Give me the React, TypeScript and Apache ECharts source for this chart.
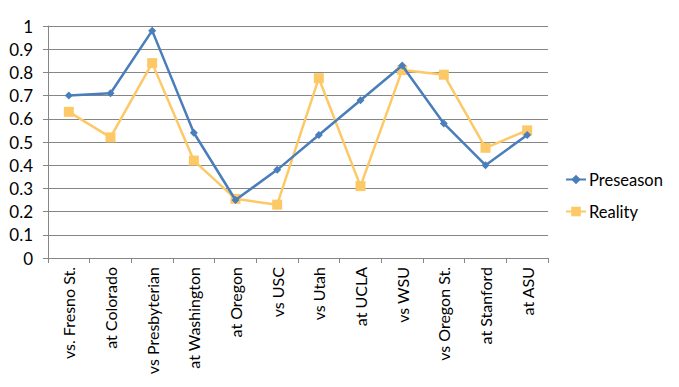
import React, { useEffect, useRef } from "react";
import * as echarts from "echarts";

const categories = [
  "vs. Fresno St.",
  "at Colorado",
  "vs Presbyterian",
  "at Washington",
  "at Oregon",
  "vs USC",
  "vs Utah",
  "at UCLA",
  "vs WSU",
  "vs Oregon St.",
  "at Stanford",
  "at ASU",
];
const preseason = [0.70, 0.71, 0.98, 0.54, 0.25, 0.38, 0.53, 0.68, 0.83, 0.58, 0.40, 0.53];
const reality = [0.63, 0.52, 0.84, 0.42, 0.255, 0.23, 0.775, 0.31, 0.81, 0.79, 0.475, 0.55];
const yTicks = [0, 0.1, 0.2, 0.3, 0.4, 0.5, 0.6, 0.7, 0.8, 0.9, 1];

const FONT = "Lato, 'Open Sans', sans-serif";

export default function App() {
  const ref = useRef<HTMLDivElement>(null);
  useEffect(() => {
    document.body.style.margin = "0";
    const chart = echarts.init(ref.current!, null, { renderer: "svg" });
    chart.setOption({
      animation: false,
      backgroundColor: "#ffffff",
      textStyle: { fontFamily: FONT, color: "#000" },
      grid: { left: 48, right: 131, top: 26, bottom: 129, containLabel: false },
      legend: {
        orient: "vertical",
        left: 560,
        top: 166,
        itemWidth: 20,
        itemHeight: 12,
        itemGap: 15,
        textStyle: { fontFamily: FONT, fontSize: 16.5, color: "#000", padding: [0, 0, 0, -2] },
        data: ["Preseason", "Reality"],
      },
      xAxis: {
        type: "category",
        data: categories,
        boundaryGap: true,
        axisLine: { lineStyle: { color: "#868686", width: 1 } },
        axisTick: { show: true, length: 5, lineStyle: { color: "#868686" }, alignWithLabel: false },
        axisLabel: {
          rotate: 90,
          interval: 0,
          margin: 9,
          fontFamily: FONT,
          fontSize: 16,
          color: "#000",
        },
      },
      yAxis: {
        type: "value",
        min: 0,
        max: 1,
        interval: 0.1,
        axisLine: { show: true, lineStyle: { color: "#868686", width: 1 } },
        axisTick: { show: true, length: 5, lineStyle: { color: "#868686" } },
        splitLine: { lineStyle: { color: "#868686", width: 1 } },
        axisLabel: {
          margin: 15,
          fontFamily: FONT,
          fontSize: 17,
          color: "#000",
          formatter: (v: number) => {
            const t = yTicks.find((x) => Math.abs(x - v) < 1e-6);
            return t === undefined ? "" : String(Math.round(t * 10) / 10);
          },
        },
      },
      series: [
        {
          name: "Preseason",
          type: "line",
          data: preseason,
          color: "#4A7EBB",
          symbol: "diamond",
          symbolSize: 8,
          lineStyle: { width: 2.5, color: "#4A7EBB" },
          itemStyle: { color: "#4A7EBB" },
        },
        {
          name: "Reality",
          type: "line",
          data: reality,
          color: "#FDC967",
          symbol: "rect",
          symbolSize: 10,
          lineStyle: { width: 2.5, color: "#FDC967" },
          itemStyle: { color: "#FDC967" },
          z: 1,
        },
      ],
    });
    return () => chart.dispose();
  }, []);
  return <div ref={ref} style={{ width: 679, height: 387 }} />;
}
